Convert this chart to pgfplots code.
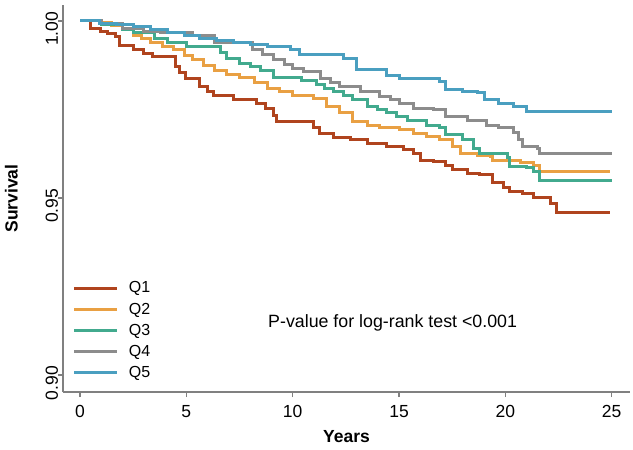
\documentclass[border=0pt]{standalone}
\usepackage{fontspec}
\setmainfont{Liberation Sans}
\usepackage{pgfplots}
\pgfplotsset{compat=1.18}
\usetikzlibrary{calc}
\definecolor{cqone}{HTML}{B0441E}
\definecolor{cqtwo}{HTML}{E9A043}
\definecolor{cqthree}{HTML}{42AA8E}
\definecolor{cqfour}{HTML}{8C8C8C}
\definecolor{cqfive}{HTML}{4A9FC0}
\definecolor{axgray}{HTML}{808080}
\begin{document}
\begin{tikzpicture}
\begin{axis}[
  scale only axis,
  width=567bp, height=387bp,
  xmin=-0.8, xmax=25.86,
  ymin=0.8952, ymax=1.0045,
  axis x line=bottom, axis y line=left,
  axis line style={-, axgray, line width=1.2bp},
  tick style={axgray, line width=1.2bp},
  tick align=outside,
  major tick length=5bp,
  xtick={0,5,10,15,20,25},
  ytick={0.90,0.95,1.00},
  /pgf/number format/assume math mode=true,
  yticklabel style={/pgf/number format/.cd, fixed, fixed zerofill, precision=2, /tikz/.cd, rotate=90, anchor=south, inner sep=0pt, outer sep=0pt, xshift=-8bp},
  xticklabel style={inner sep=0pt, yshift=-8bp, anchor=north},
  ticklabel style={font=\fontsize{17.5bp}{20bp}\selectfont},
  xlabel={\textbf{Years}},
  ylabel={\textbf{Survival}},
  label style={font=\fontsize{17.5bp}{20bp}\selectfont},
  xlabel style={at={(0.5,0)}, anchor=north, yshift=-38bp, inner sep=0pt},
  ylabel style={at={(0,0.5)}, anchor=south, yshift=45bp, inner sep=0pt},
  clip=false,
  legend style={at={(0.012,0.293)}, anchor=north west, draw=none, fill=none,
    font=\fontsize{16bp}{18bp}\selectfont, row sep=6.5bp, column sep=9bp,
    nodes={inner sep=1bp}},
  legend cell align=left,
  legend image code/.code={\draw[#1, line width=3bp] (0bp,0bp) -- (43bp,0bp);},
  every axis plot/.append style={line width=3bp, const plot},
]
\addplot[cqone] coordinates {(0,1) (0.47,0.998) (0.94,0.997) (1.3,0.9964) (1.65,0.9956) (1.88,0.9932) (2.5,0.9918) (3.0,0.9908) (3.4,0.9899) (4.47,0.987) (4.7,0.9855) (4.94,0.9838) (5.64,0.9814) (6.0,0.9802) (6.27,0.979) (7.2,0.9777) (8.3,0.9768) (8.7,0.9752) (9.1,0.9734) (9.25,0.9716) (10.97,0.9698) (11.28,0.9683) (11.9,0.9672) (12.7,0.9664) (13.5,0.9655) (14.4,0.9645) (15.2,0.9636) (15.7,0.9627) (16.0,0.9607) (16.6,0.9602) (17.2,0.9592) (17.5,0.958) (18.2,0.957) (18.8,0.9565) (19.4,0.9545) (19.9,0.953) (20.2,0.9517) (20.8,0.9513) (21.3,0.950) (22.1,0.9485) (22.4,0.946) (24.9,0.946)};
\addlegendentry{Q1}
\addplot[cqtwo] coordinates {(0,1) (1.0,0.9995) (1.5,0.9988) (2.0,0.998) (2.5,0.996) (2.9,0.995) (3.3,0.9938) (3.9,0.9928) (4.4,0.9918) (4.9,0.9903) (5.3,0.989) (5.8,0.9875) (6.3,0.986) (6.9,0.985) (7.5,0.9839) (8.2,0.9825) (8.8,0.981) (9.4,0.98) (10.0,0.979) (11.0,0.978) (11.6,0.9757) (12.2,0.974) (12.8,0.9715) (13.5,0.9706) (14.1,0.970) (15.0,0.9692) (15.7,0.9683) (16.3,0.9673) (16.9,0.9664) (17.5,0.9645) (17.9,0.9627) (18.7,0.962) (19.3,0.9616) (19.4,0.9607) (20.7,0.96) (21.3,0.9593) (21.6,0.9574) (24.9,0.9574)};
\addlegendentry{Q2}
\addplot[cqthree] coordinates {(0,1) (1,0.999) (2,0.9975) (2.5,0.9966) (3.5,0.995) (4.1,0.9938) (5.0,0.9927) (6.6,0.991) (6.9,0.9895) (7.5,0.988) (8.0,0.987) (8.5,0.986) (9.1,0.984) (10.4,0.9833) (11.1,0.982) (11.5,0.981) (11.9,0.980) (12.4,0.979) (12.8,0.9777) (13.5,0.9757) (14.0,0.975) (14.4,0.974) (14.9,0.973) (15.4,0.972) (16.3,0.9706) (16.9,0.9698) (17.2,0.9678) (18.0,0.9664) (18.5,0.964) (18.8,0.9627) (20.1,0.9613) (20.2,0.9588) (21.0,0.9585) (21.3,0.9574) (21.6,0.955) (25.0,0.955)};
\addlegendentry{Q3}
\addplot[cqfour] coordinates {(0,1) (1,0.9993) (2,0.998) (3,0.997) (3.8,0.9966) (5.3,0.996) (6.3,0.994) (7.2,0.9938) (8.1,0.9918) (8.6,0.9905) (9.1,0.989) (9.6,0.9878) (10.0,0.9867) (10.5,0.9856) (11.3,0.9838) (11.8,0.9826) (12.2,0.9814) (13.2,0.980) (14.1,0.9786) (14.6,0.9777) (15.0,0.9768) (15.7,0.9754) (16.6,0.9749) (17.2,0.9729) (18.2,0.972) (19.1,0.9706) (19.7,0.9698) (20.4,0.9686) (20.6,0.9664) (20.8,0.9645) (21.5,0.964) (21.6,0.9627) (25.0,0.9627)};
\addlegendentry{Q4}
\addplot[cqfive] coordinates {(0,1) (0.9,0.9994) (1.7,0.999) (2.5,0.9983) (3.3,0.9975) (4.1,0.9966) (4.9,0.9958) (5.6,0.995) (6.4,0.9945) (7.2,0.994) (8.0,0.9933) (8.8,0.9927) (9.9,0.9918) (10.3,0.9904) (12.4,0.9895) (13.0,0.9862) (14.4,0.9847) (15.0,0.9838) (16.9,0.9828) (17.2,0.9805) (18.0,0.980) (18.7,0.9797) (19.0,0.9777) (19.7,0.9768) (20.4,0.9757) (21.0,0.9743) (25.0,0.9743)};
\addlegendentry{Q5}
\node[anchor=west, inner sep=0pt, font=\fontsize{17.8bp}{20bp}\selectfont] at (axis cs:8.84,0.9147) {P-value for log-rank test <0.001};
\end{axis}
\pgfresetboundingbox
\path ($(current axis.south west)+(-63bp,-58bp)$) rectangle ($(current axis.north east)+(3bp,5bp)$);
\end{tikzpicture}
\end{document}
